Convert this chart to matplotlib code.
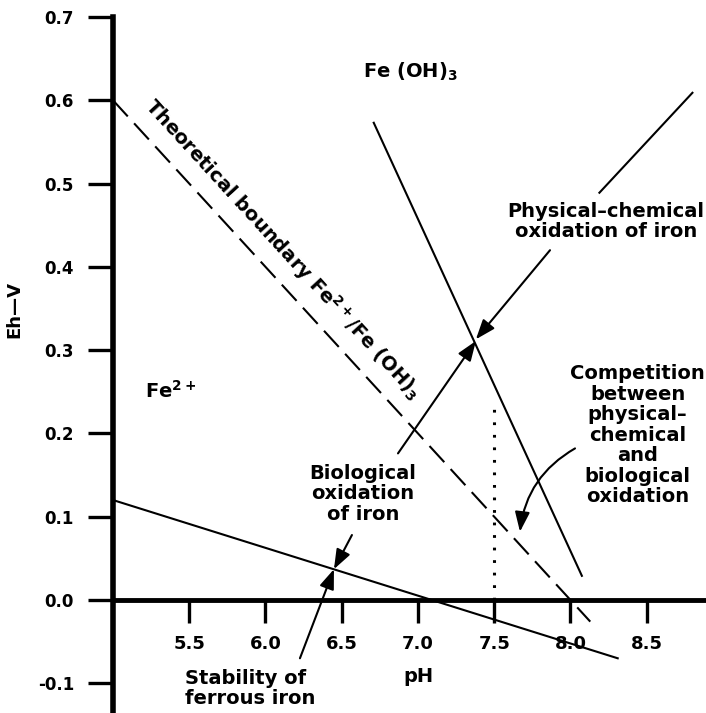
import matplotlib
matplotlib.use("Agg")
import matplotlib.pyplot as plt

# axis ticks
PH_TICKS = [5.5, 6.0, 6.5, 7.0, 7.5, 8.0, 8.5]
EH_TICKS = [-0.1, 0.0, 0.1, 0.2, 0.3, 0.4, 0.5, 0.6, 0.7]

# boundary lines as (pH, Eh) end points
THEORETICAL_PH = [5.0, 8.13]
THEORETICAL_EH = [0.60, -0.026]
PHYSCHEM_PH = [6.71, 8.075]
PHYSCHEM_EH = [0.573, 0.029]
FERROUS_PH = [5.0, 8.31]
FERROUS_EH = [0.12, -0.07]
DOTTED_PH = [7.5, 7.5]
DOTTED_EH = [0.0, 0.232]

# pointer lines (pH, Eh)
PHYS_LEADER_PH = [8.80, 8.19]
PHYS_LEADER_EH = [0.609, 0.489]
ARROW_TAILS = [(7.866, 0.420), (6.869, 0.176), (6.567, 0.078), (6.226, -0.070)]
ARROW_TIPS = [(7.380, 0.313), (7.380, 0.311), (6.449, 0.037), (6.449, 0.037)]
CURVED_TAIL = (8.03, 0.182)
CURVED_TIP = (7.669, 0.082)


def Main():
    plt.rcParams['font.weight'] = 'bold'
    plt.rcParams['mathtext.fontset'] = 'dejavusans'
    fig = plt.figure(figsize=(7.06, 7.13), dpi=100)
    ax = fig.add_axes([113 / 706, 0, 593 / 706, 696 / 713])
    ax.set_xlim(5.0, 8.889)
    ax.set_ylim(-0.1357, 0.7)

    ax.spines['top'].set_visible(False)
    ax.spines['right'].set_visible(False)
    ax.spines['bottom'].set_position(('data', 0))
    ax.spines['left'].set_linewidth(4)
    ax.spines['bottom'].set_linewidth(3.5)

    ax.set_xticks(PH_TICKS)
    ax.set_xticklabels([f"{v:.1f}" for v in PH_TICKS])
    ax.set_yticks(EH_TICKS)
    ax.set_yticklabels([f"{v:.1f}" for v in EH_TICKS])
    ax.tick_params(axis='x', direction='out', length=16.5, width=2.4, labelsize=13, pad=9)
    ax.tick_params(axis='y', direction='out', length=18, width=2.4, labelsize=12, pad=10)
    for lab in ax.get_xticklabels():
        lab.set_bbox(dict(facecolor='white', edgecolor='none', pad=1))

    ax.plot(THEORETICAL_PH, THEORETICAL_EH, color='black', lw=1.5, linestyle=(0, (10.5, 4.5)))
    ax.plot(PHYSCHEM_PH, PHYSCHEM_EH, color='black', lw=1.5)
    ax.plot(FERROUS_PH, FERROUS_EH, color='black', lw=1.5)
    ax.plot(DOTTED_PH, DOTTED_EH, color='black', lw=2.2, linestyle=(0, (0.9, 3.2)))
    ax.plot(PHYS_LEADER_PH, PHYS_LEADER_EH, color='black', lw=1.5)

    head = '-|>,head_length=0.8,head_width=0.3'
    for tail, tip in zip(ARROW_TAILS, ARROW_TIPS):
        ax.annotate('', xy=tip, xytext=tail,
                    arrowprops=dict(arrowstyle=head, lw=1.5, color='black',
                                    mutation_scale=15, shrinkA=0, shrinkB=0))
    ax.annotate('', xy=CURVED_TIP, xytext=CURVED_TAIL,
                arrowprops=dict(arrowstyle=head, lw=1.5, color='black', mutation_scale=15,
                                shrinkA=0, shrinkB=0, connectionstyle='arc3,rad=0.25'))

    fs = 14
    ax.text(6.639, 0.6267, r'Fe (OH)$_\mathbf{3}$', fontsize=fs, ha='left', va='baseline')
    ax.text(5.21, 0.2425, r'Fe$^\mathbf{2+}$', fontsize=fs, ha='left', va='baseline')
    ax.text(6.115, 0.4216, r'Theoretical boundary Fe$^\mathbf{2+}$/Fe (OH)$_\mathbf{3}$',
            fontsize=fs, ha='center', va='center', rotation=-47.5, rotation_mode='anchor')
    ax.text(8.232, 0.478, 'Physical\u2013chemical\noxidation of iron', fontsize=fs,
            ha='center', va='top', multialignment='center', linespacing=1.1)
    ax.text(8.44, 0.2833, 'Competition\nbetween\nphysical\u2013\nchemical\nand\nbiological\noxidation',
            fontsize=fs, ha='center', va='top', multialignment='center', linespacing=1.1)
    ax.text(6.639, 0.1633, 'Biological\noxidation\nof iron', fontsize=fs,
            ha='center', va='top', multialignment='center', linespacing=1.1)
    ax.text(5.472, -0.0828, 'Stability of\nferrous iron', fontsize=fs,
            ha='left', va='top', multialignment='left', linespacing=1.1)
    ax.text(7.0, -0.098, 'pH', fontsize=fs, ha='center', va='baseline')
    fig.text(14 / 706, 1 - 309 / 713, 'Eh\u2014V', fontsize=13, fontweight='bold',
             rotation=90, ha='center', va='center')

    fig.savefig('out.png', dpi=100)
    plt.close(fig)


if __name__ == "__main__":
    Main()
